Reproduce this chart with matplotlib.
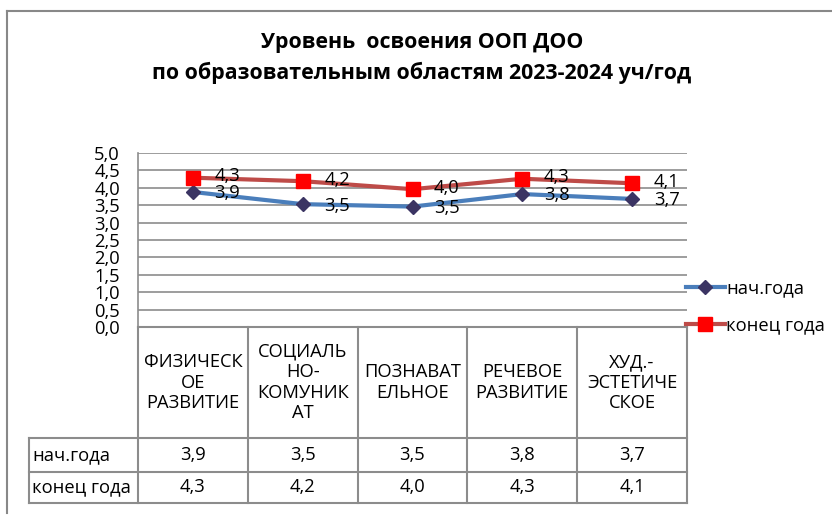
import matplotlib
matplotlib.use("Agg")
import matplotlib.pyplot as plt
from matplotlib.lines import Line2D
from matplotlib.ticker import FuncFormatter
import numpy as np

plt.rcParams['font.family'] = ['Open Sans', 'DejaVu Sans']

# data
categories = ["ФИЗИЧЕСК\nОЕ\nРАЗВИТИЕ", "СОЦИАЛЬ\nНО-\nКОМУНИК\nАТ",
              "ПОЗНАВАТ\nЕЛЬНОЕ", "РЕЧЕВОЕ\nРАЗВИТИЕ", "ХУД.-\nЭСТЕТИЧЕ\nСКОЕ"]
start_year = [3.88, 3.53, 3.46, 3.82, 3.68]
end_year = [4.29, 4.19, 3.96, 4.26, 4.13]
series_names = ["нач.года", "конец года"]
title = "Уровень  освоения ООП ДОО\nпо образовательным областям 2023-2024 уч/год"

blue = "#4A7EBB"
red = "#BE4B48"
grid_col = "#8C8C8C"
fs = 13.2

W, H = 832, 517
fig = plt.figure(figsize=(W / 100, H / 100), dpi=100)

# plot area in pixels
px_l, px_r, px_t, px_b = 138, 687, 153, 327
ax = fig.add_axes([px_l / W, 1 - px_b / H, (px_r - px_l) / W, (px_b - px_t) / H])

x = np.arange(len(categories))
ax.plot(x, start_year, color=blue, lw=3, marker="D", ms=7,
        mfc="#3B3463", mec="#3B3463", label=series_names[0], zorder=3)
ax.plot(x, end_year, color=red, lw=3, marker="s", ms=10,
        mfc="#FF0000", mec="#FF0000", label=series_names[1], zorder=3)

for xi, v in zip(x, start_year):
    ax.annotate(f"{v:.1f}".replace(".", ","), (xi, v), xytext=(15.5, -1),
                textcoords="offset points", va="center", ha="left", fontsize=fs)
for xi, v in zip(x, end_year):
    ax.annotate(f"{v:.1f}".replace(".", ","), (xi, v), xytext=(15.5, 1),
                textcoords="offset points", va="center", ha="left", fontsize=fs)

ax.set_xlim(-0.5, len(categories) - 0.5)
ax.set_ylim(0, 5)
ax.set_yticks(np.arange(0, 5.01, 0.5))
ax.yaxis.set_major_formatter(FuncFormatter(lambda v, p: f"{v:.1f}".replace(".", ",")))
ax.tick_params(axis="y", length=0, pad=13, labelsize=fs)
ax.set_xticks([])
ax.grid(axis="y", color=grid_col, lw=1.2)
ax.set_axisbelow(True)
for s in ["top", "right", "bottom"]:
    ax.spines[s].set_visible(False)
ax.spines["left"].set_color(grid_col)
ax.spines["left"].set_linewidth(1.2)

# data table under the plot
tr = ax.get_xaxis_transform()
ah = px_b - px_t
y_head = (px_b - 438) / ah
y_r1 = (px_b - 472) / ah
y_r2 = (px_b - 503) / ah
x_lab = -0.5 - (px_l - 29) / ((px_r - px_l) / len(categories))
tkw = dict(transform=tr, color=grid_col, lw=1.5, clip_on=False)
ax.add_line(Line2D([-0.5, 4.5], [0, 0], **tkw))
ax.add_line(Line2D([x_lab, 4.5], [y_head, y_head], **tkw))
ax.add_line(Line2D([x_lab, 4.5], [y_r1, y_r1], **tkw))
ax.add_line(Line2D([x_lab, 4.5], [y_r2, y_r2], **tkw))
ax.add_line(Line2D([x_lab, x_lab], [y_head, y_r2], **tkw))
for b in np.arange(-0.5, 4.6, 1.0):
    ax.add_line(Line2D([b, b], [0, y_r2], **tkw))

for xi, c in zip(x, categories):
    ax.text(xi, y_head / 2, c, transform=tr, ha="center", va="center",
            fontsize=fs, linespacing=1.17, clip_on=False)
for row, (name, vals) in enumerate(zip(series_names, [start_year, end_year])):
    yc = (y_head + y_r1) / 2 if row == 0 else (y_r1 + y_r2) / 2
    ax.text(x_lab + 0.03, yc, name, transform=tr, ha="left", va="center", fontsize=fs)
    for xi, v in zip(x, vals):
        ax.text(xi, yc, f"{v:.1f}".replace(".", ","), transform=tr,
                ha="center", va="center", fontsize=fs)

ax.legend(loc="center left", bbox_to_anchor=(0.985, 0.115), frameon=False,
          fontsize=fs, handlelength=2.1, handletextpad=0.1, labelspacing=1.05,
          borderaxespad=0)

fig.text(422 / W, 1 - 58 / H, title, ha="center", va="center", fontsize=15.4,
         fontweight="bold", linespacing=1.55)

# chart frame (top and left edges visible)
fig.add_artist(Line2D([7 / W, 1], [1 - 11 / H, 1 - 11 / H], color="#888888", lw=1.5))
fig.add_artist(Line2D([7 / W, 7 / W], [1 - 11 / H, 1 - 513 / H], color="#888888", lw=1.5))

fig.savefig("out.png", dpi=100)
